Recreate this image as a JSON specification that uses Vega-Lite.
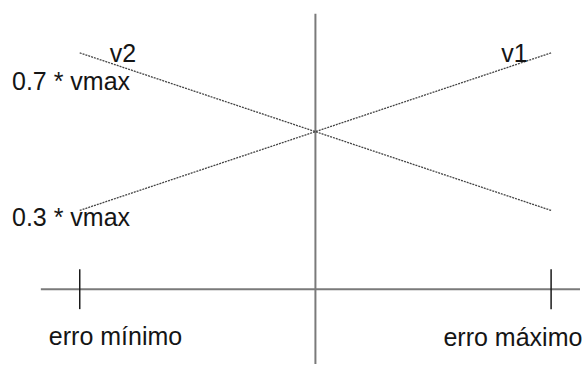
{
  "$schema": "https://vega.github.io/schema/vega-lite/v6.json",
  "autosize": {"type": "fit", "contains": "padding"},
  "width": 582,
  "height": 365,
  "padding": 0,
  "background": "white",
  "config": {"view": {"stroke": null}},
  "datasets": {
    "axes": [
      {"name": "erro", "x": -1.165, "x2": 1.1226, "y": 0.1, "y2": 0.1},
      {"name": "velocidade", "x": 0, "x2": 0, "y": 0.799, "y2": -0.0899}
    ],
    "ticks": [
      {"name": "erro mínimo", "x": -1, "y": 0.1506, "y2": 0.0494},
      {"name": "erro máximo", "x": 1, "y": 0.1506, "y2": 0.0494}
    ],
    "series": [
      {"serie": "v1", "erro": -1, "v": 0.3},
      {"serie": "v1", "erro": 1, "v": 0.7},
      {"serie": "v2", "erro": -1, "v": 0.7},
      {"serie": "v2", "erro": 1, "v": 0.3}
    ],
    "labels": [
      {"label": "0.7 * vmax", "x": -1.2875, "y": 0.606},
      {"label": "0.3 * vmax", "x": -1.2875, "y": 0.2595},
      {"label": "v2", "x": -0.873, "y": 0.677},
      {"label": "v1", "x": 0.7886, "y": 0.677},
      {"label": "erro mínimo", "x": -1.131, "y": -0.0418},
      {"label": "erro máximo", "x": 0.5433, "y": -0.0443}
    ]
  },
  "layer": [
    {
      "data": {"name": "axes"},
      "mark": {"type": "rule", "color": "#7a7a7a", "strokeWidth": 2},
      "encoding": {
        "x": {"field": "x", "type": "quantitative", "scale": {"domain": [-1.3383, 1.1226], "nice": false, "zero": false}, "axis": null},
        "x2": {"field": "x2"},
        "y": {"field": "y", "type": "quantitative", "scale": {"domain": [-0.0899, 0.8342], "nice": false, "zero": false}, "axis": null},
        "y2": {"field": "y2"}
      }
    },
    {
      "data": {"name": "ticks"},
      "mark": {"type": "rule", "color": "#1a1a1a", "strokeWidth": 1.5},
      "encoding": {
        "x": {"field": "x", "type": "quantitative"},
        "y": {"field": "y", "type": "quantitative"},
        "y2": {"field": "y2"}
      }
    },
    {
      "data": {"name": "series"},
      "mark": {"type": "line", "color": "#444444", "strokeWidth": 1.3, "strokeDash": [2, 1]},
      "encoding": {
        "x": {"field": "erro", "type": "quantitative"},
        "y": {"field": "v", "type": "quantitative"},
        "detail": {"field": "serie"}
      }
    },
    {
      "data": {"name": "labels"},
      "mark": {"type": "text", "align": "left", "baseline": "alphabetic", "font": "Liberation Sans", "fontSize": 25, "color": "#151515"},
      "encoding": {
        "x": {"field": "x", "type": "quantitative"},
        "y": {"field": "y", "type": "quantitative"},
        "text": {"field": "label"}
      }
    }
  ]
}
